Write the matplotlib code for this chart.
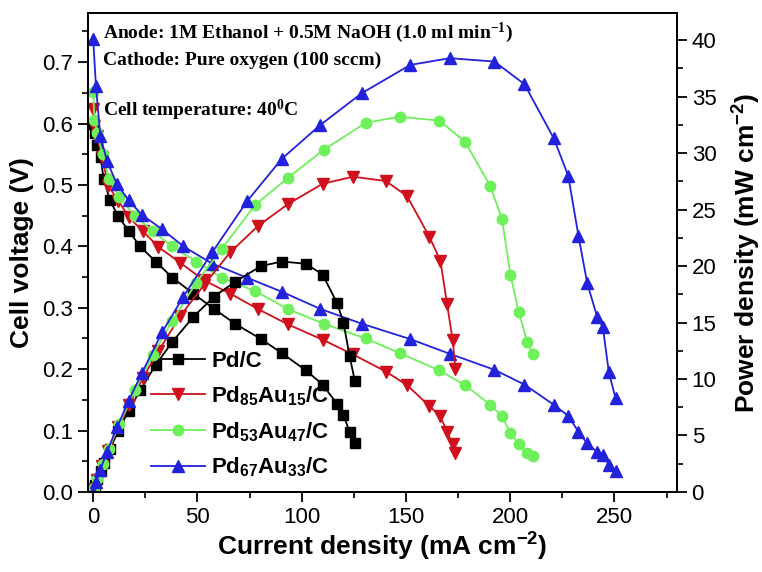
import matplotlib
matplotlib.use('Agg')
import matplotlib.pyplot as plt
from matplotlib.ticker import MultipleLocator

plt.rcParams['font.family'] = ['Liberation Sans', 'DejaVu Sans']
plt.rcParams['mathtext.default'] = 'regular'

# Pd/C
i_pd = [0, 1, 2, 3.5, 5, 8, 12, 17, 22.5, 30, 38, 48, 58, 68, 80.5, 90.5, 102, 110, 117, 120, 123, 125.5]
v_pd = [0.60, 0.585, 0.565, 0.545, 0.51, 0.475, 0.449, 0.425, 0.40, 0.375, 0.349, 0.323, 0.298,
        0.274, 0.249, 0.226, 0.198, 0.175, 0.143, 0.125, 0.098, 0.079]
p_pd = [0, 0.59, 1.13, 1.9, 2.55, 3.8, 5.39, 7.2, 9.0, 11.25, 13.3, 15.5, 17.3, 18.6, 20.0, 20.4,
        20.2, 19.25, 16.7, 15.0, 12.0, 9.8]

# Pd85Au15/C
i_85 = [0, 0.5, 1.8, 4.2, 7.3, 12.1, 17.2, 23.7, 31.3, 41.8, 53, 65.7, 79, 93.3, 110, 124.6,
        140.4, 150.5, 161.2, 166.5, 169.7, 172.4, 173.7]
v_85 = [0.624, 0.596, 0.58, 0.545, 0.498, 0.474, 0.447, 0.425, 0.399, 0.373, 0.345, 0.323, 0.298,
        0.273, 0.248, 0.224, 0.196, 0.174, 0.140, 0.123, 0.098, 0.078, 0.063]
p_85 = [0, 0.30, 1.04, 2.29, 3.64, 5.74, 7.69, 10.07, 12.49, 15.59, 18.29, 21.22, 23.54, 25.47,
        27.28, 27.91, 27.52, 26.19, 22.6, 20.48, 16.63, 13.45, 10.9]

# Pd53Au47/C
i_53 = [0, 0.6, 2, 4.5, 7.5, 12.5, 20.2, 28.5, 37.8, 49.4, 61.7, 77.7, 93.3, 110.5, 130.7, 147,
        166, 178.3, 190.5, 196.1, 200.1, 204.1, 208.1, 210.8]
v_53 = [0.651, 0.605, 0.585, 0.55, 0.51, 0.48, 0.449, 0.425, 0.40, 0.375, 0.349, 0.327, 0.298,
        0.274, 0.25, 0.226, 0.198, 0.174, 0.142, 0.123, 0.096, 0.078, 0.064, 0.058]
p_53 = [0, 0.36, 1.17, 2.48, 3.83, 6.0, 9.07, 12.11, 15.12, 18.53, 21.53, 25.41, 27.8, 30.28,
        32.68, 33.22, 32.87, 31.02, 27.05, 24.12, 19.21, 15.92, 13.31, 12.23]

# Pd67Au33/C
i_67 = [0, 1.3, 3.4, 6.6, 11.4, 17, 23.4, 33, 43.2, 57, 73.7, 90.5, 109, 128.8, 152, 171, 192.4,
        206.8, 220.9, 227.8, 232.7, 236.9, 241.7, 244.4, 247.3, 250.5]
v_67 = [0.737, 0.661, 0.58, 0.539, 0.501, 0.475, 0.451, 0.428, 0.40, 0.372, 0.349, 0.326, 0.298,
        0.274, 0.249, 0.225, 0.199, 0.175, 0.142, 0.124, 0.098, 0.079, 0.065, 0.06, 0.044, 0.034]
p_67 = [0, 0.86, 1.97, 3.56, 5.71, 8.08, 10.55, 14.12, 17.28, 21.2, 25.72, 29.5, 32.5, 35.3, 37.8,
        38.4, 38.1, 36.1, 31.3, 28.0, 22.7, 18.5, 15.5, 14.6, 10.6, 8.3]

labels = ['Pd/C', 'Pd$_{85}$Au$_{15}$/C', 'Pd$_{53}$Au$_{47}$/C', 'Pd$_{67}$Au$_{33}$/C']
colors = ['black', '#d0101c', '#6ef05a', '#2222dd']
markers = ['s', 'v', 'o', '^']
msizes = [7, 8.5, 7.5, 8.5]

currents = [i_pd, i_85, i_53, i_67]
voltages = [v_pd, v_85, v_53, v_67]
powers = [p_pd, p_85, p_53, p_67]

fig = plt.figure(figsize=(7.62, 5.72), dpi=100)
ax = fig.add_axes([0.1155, 0.1399, 0.773, 0.8374])
ax2 = ax.twinx()

handles = []
for cur, vol, pw, lab, c, m, ms in zip(currents, voltages, powers, labels, colors, markers, msizes):
    h, = ax.plot(cur, vol, color=c, marker=m, markersize=ms, linewidth=1.3, label=lab)
    ax2.plot(cur, pw, color=c, marker=m, markersize=ms, linewidth=1.3)
    handles.append(h)

ax.set_xlim(-2.5, 280)
ax.set_ylim(0, 0.78)
ax2.set_ylim(0, 42.4)

ax.xaxis.set_major_locator(MultipleLocator(50))
ax.xaxis.set_minor_locator(MultipleLocator(25))
ax.yaxis.set_major_locator(MultipleLocator(0.1))
ax.yaxis.set_minor_locator(MultipleLocator(0.05))
ax2.yaxis.set_major_locator(MultipleLocator(5))
ax2.yaxis.set_minor_locator(MultipleLocator(2.5))
ax.yaxis.set_major_formatter(matplotlib.ticker.FormatStrFormatter('%.1f'))

for a in (ax, ax2):
    a.tick_params(which='major', length=7, width=1.3, labelsize=16, direction='out')
    a.tick_params(which='minor', length=4, width=1.2, direction='out')
    for s in a.spines.values():
        s.set_linewidth(1.4)

ax.set_xlabel('Current density (mA cm$^{-2}$)', fontsize=19, fontweight='bold', labelpad=2)
ax.set_ylabel('Cell voltage (V)', fontsize=19, fontweight='bold', labelpad=6)
ax2.set_ylabel('Power density (mW cm$^{-2}$)', fontsize=19, fontweight='bold', labelpad=10)

serif = dict(family='Liberation Serif', fontweight='bold', fontsize=14,
             transform=ax.transAxes, va='center', ha='left')
ax.text(0.025, 0.958, 'Anode: 1M Ethanol + 0.5M NaOH (1.0 ml min$^{-1}$)', **serif)
ax.text(0.025, 0.902, 'Cathode: Pure oxygen (100 sccm)', **serif)
ax.text(0.025, 0.797, 'Cell temperature: 40$^0$C', **serif)

leg = ax.legend(handles=handles, loc='lower left', bbox_to_anchor=(0.1, 0.017), frameon=False,
                prop={'size': 16, 'weight': 'bold'}, handlelength=2.4, handletextpad=0.3,
                labelspacing=0.55, borderpad=0.2, borderaxespad=0)

fig.savefig('out.png', dpi=100)
